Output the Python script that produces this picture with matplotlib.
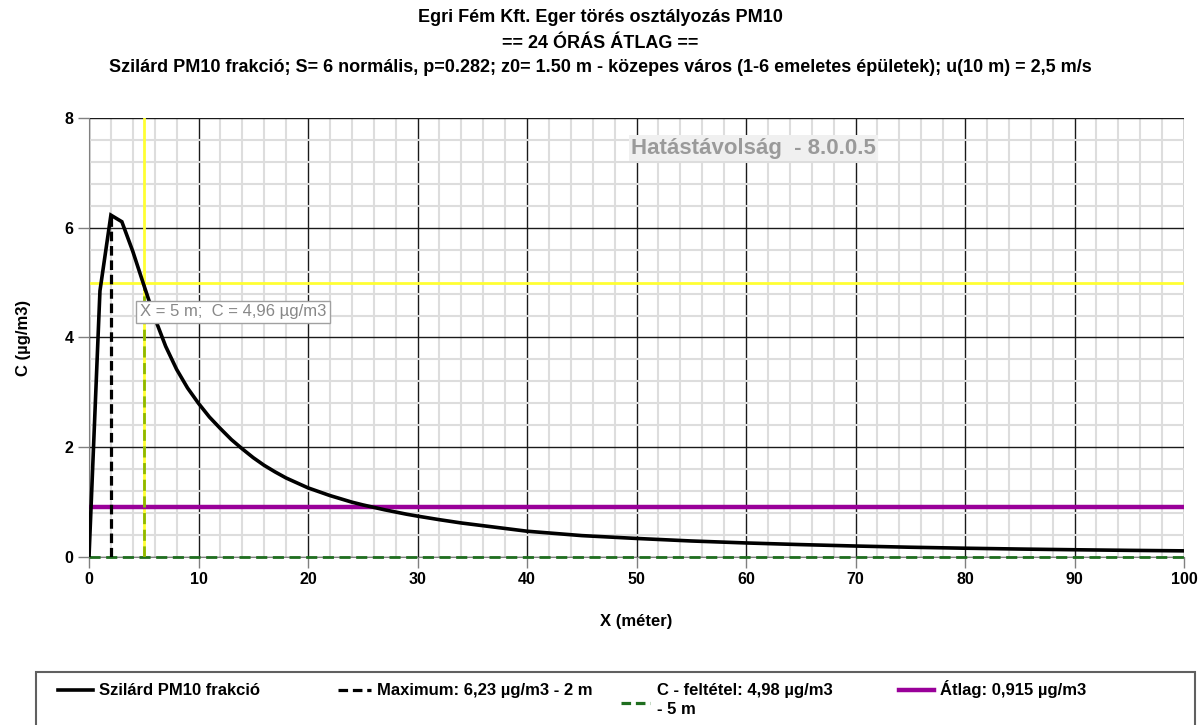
import matplotlib
matplotlib.use("Agg")
import matplotlib.pyplot as plt
from matplotlib.ticker import MultipleLocator
from matplotlib.lines import Line2D
from matplotlib.patches import Rectangle

plt.rcParams['font.family'] = ['Liberation Sans', 'DejaVu Sans']

# ---- data ----
x_m = [0, 1, 2, 3, 4, 5, 6, 7, 8, 9, 10, 11, 12, 13, 14, 15, 16, 17, 18, 19, 20,
       21, 22, 23, 24, 25, 26, 27, 28, 29, 30, 32, 34, 36, 38, 40, 45, 50, 55, 60,
       65, 70, 75, 80, 85, 90, 95, 100]
c_ug = [0.0, 4.85, 6.23, 6.11, 5.57, 4.96, 4.36, 3.84, 3.42, 3.08, 2.80, 2.55, 2.34,
        2.14, 1.97, 1.81, 1.67, 1.55, 1.44, 1.35, 1.26,
        1.19, 1.12, 1.06, 1.00, 0.95, 0.905, 0.86, 0.82, 0.78, 0.745, 0.68, 0.62,
        0.57, 0.52, 0.47, 0.39, 0.338, 0.292, 0.256,
        0.226, 0.200, 0.178, 0.160, 0.145, 0.132, 0.121, 0.112]
max_x, max_c = 2, 6.23
cond_x, cond_c = 5, 4.98
limit_c = 5
mean_c = 0.915
tip_x, tip_c = 5, 4.96

title_lines = ["Egri Fém Kft. Eger törés osztályozás PM10",
               "== 24 ÓRÁS ÁTLAG ==",
               "Szilárd PM10 frakció; S= 6 normális, p=0.282; z0= 1.50 m - közepes város (1-6 emeletes épületek); u(10 m) = 2,5 m/s"]
lbl_curve = "Szilárd PM10 frakció"
lbl_max = "Maximum: 6,23 µg/m3 - 2 m"
lbl_cond = "C - feltétel: 4,98 µg/m3\n- 5 m"
lbl_mean = "Átlag: 0,915 µg/m3"
watermark = "Hatástávolság  - 8.0.0.5"

W, H = 1201, 725
fig = plt.figure(figsize=(W / 100, H / 100), dpi=100)
ax = fig.add_axes([89 / W, 1 - 557 / H, (1184 - 89) / W, (557 - 118) / H])

ax.set_xlim(0, 100)
ax.set_ylim(0, 8)
ax.xaxis.set_major_locator(MultipleLocator(10))
ax.xaxis.set_minor_locator(MultipleLocator(2))
ax.yaxis.set_major_locator(MultipleLocator(2))
ax.yaxis.set_minor_locator(MultipleLocator(0.4))
ax.grid(which='minor', color='#dddddd', linewidth=1.5, zorder=0)
ax.grid(which='major', color='#1a1a1a', linewidth=1.0, zorder=0.5)
ax.set_axisbelow(True)
for s in ax.spines.values():
    s.set_visible(False)
ax.spines['left'].set_visible(True)
ax.spines['left'].set_color('#808080')
ax.spines['bottom'].set_visible(True)
ax.spines['bottom'].set_color('#808080')
ax.tick_params(which='major', length=8, color='#808080', width=1, labelsize=11.5, pad=3)
ax.tick_params(which='minor', length=0)
for lab in ax.get_xticklabels() + ax.get_yticklabels():
    lab.set_fontweight('bold')

# limit lines
ax.axvline(cond_x, color='#ffff33', linewidth=2, zorder=2)
ax.axhline(limit_c, color='#ffff33', linewidth=2, zorder=2)
# mean
ax.plot([0, 100], [mean_c, mean_c], color='#990099', linewidth=3.2, zorder=3, solid_capstyle='butt')
# condition
ax.plot([0, 100], [0, 0], color='#1f6e1f', linewidth=2, linestyle=(0, (4, 2)), zorder=3, clip_on=False)
ax.plot([cond_x, cond_x], [0, cond_c], color='#8fb800', linewidth=2, linestyle=(0, (4, 2)), zorder=3)
# maximum
ax.plot([max_x, max_x], [0, max_c], color='black', linewidth=2.3, linestyle=(0, (3, 1.5)), zorder=4)
# curve
ax.plot(x_m, c_ug, color='black', linewidth=2.6, zorder=5, solid_joinstyle='miter')

# tooltip
ax.text(4.62, 4.47, f"X = {tip_x} m;  C = {tip_c:.2f} µg/m3".replace('.', ','),
        fontsize=12, color='#888888', va='center', ha='left', zorder=6,
        bbox=dict(boxstyle='square,pad=0.22', facecolor='white', edgecolor='#a0a0a0', linewidth=1))

# watermark
ax.text(60.7, 7.45, watermark, fontsize=16, fontweight='bold', color='#9a9a9a', ha='center', va='center',
        zorder=6, bbox=dict(boxstyle='square,pad=0.1', facecolor='#f0f0f0', edgecolor='none'))

ax.set_xlabel("X (méter)", fontsize=12, fontweight='bold', labelpad=19)
ax.set_ylabel("C (µg/m3)", fontsize=12, fontweight='bold', labelpad=24)

# titles
for yy, t in zip([18, 43, 67], title_lines):
    fig.text(0.5, 1 - yy / H, t, ha='center', va='center', fontsize=13, fontweight='bold')

# legend (drawn manually in pixel positions of the figure)
def fx(px):
    return px / W

def fy(py):
    return 1 - py / H

fig.add_artist(Rectangle((fx(36), fy(740)), fx(1195) - fx(36), fy(672) - fy(740),
                         transform=fig.transFigure, facecolor='white', edgecolor='#606060',
                         linewidth=1.5, clip_on=False))
entries = [
    (58, 93, 690, dict(color='black', lw=2.6, ls='-'), 99, lbl_curve),
    (338, 371, 690, dict(color='black', lw=2.3, ls=(0, (3, 1.5))), 377, lbl_max),
    (621, 650, 703, dict(color='#1f6e1f', lw=2.3, ls=(0, (3, 1.5))), 657, lbl_cond),
    (899, 934, 690, dict(color='#990099', lw=3.2, ls='-'), 940, lbl_mean),
]
for x0, x1, yh, sty, xt, lbl in entries:
    fig.add_artist(Line2D([fx(x0), fx(x1)], [fy(yh), fy(yh)], transform=fig.transFigure,
                          color=sty['color'], linewidth=sty['lw'], linestyle=sty['ls']))
    lines = lbl.split('\n')
    for i, ln in enumerate(lines):
        fig.text(fx(xt), fy(695 + 19 * i), ln, ha='left', va='baseline', fontsize=12,
                 fontweight='bold')

fig.savefig("out.png", dpi=100)
